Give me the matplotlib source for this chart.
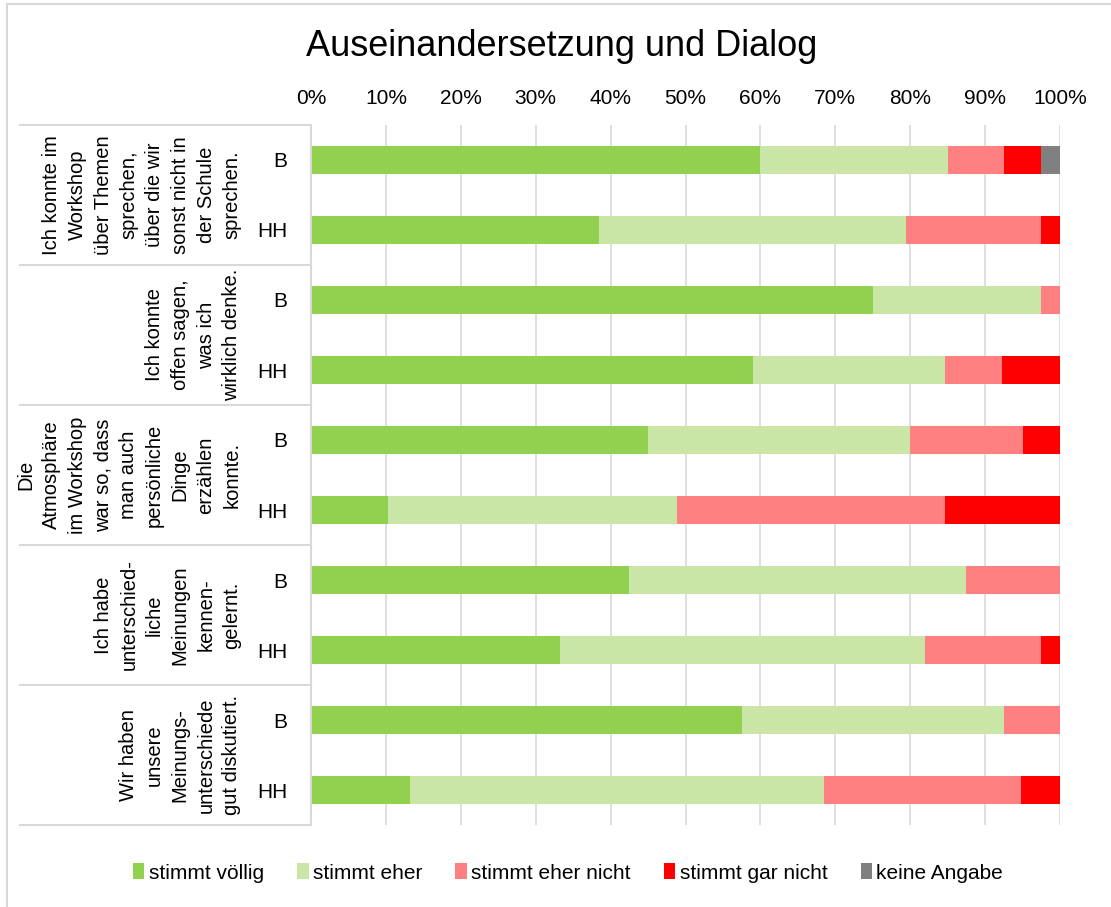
import matplotlib.pyplot as plt
import matplotlib.transforms as mtransforms
from matplotlib.lines import Line2D
import numpy as np

plt.rcParams['font.family'] = ['Liberation Sans', 'DejaVu Sans']

# data (percent), one entry per bar, top to bottom
groups = ["B", "HH", "B", "HH", "B", "HH", "B", "HH", "B", "HH"]
questions = [
    "Ich konnte im\nWorkshop\nüber Themen\nsprechen,\nüber die wir\nsonst nicht in\nder Schule\nsprechen.",
    "Ich konnte\noffen sagen,\nwas ich\nwirklich denke.",
    "Die\nAtmosphäre\nim Workshop\nwar so, dass\nman auch\npersönliche\nDinge\nerzählen\nkonnte.",
    "Ich habe\nunterschied-\nliche\nMeinungen\nkennen-\ngelernt.",
    "Wir haben\nunsere\nMeinungs-\nunterschiede\ngut diskutiert.",
]
series = ["stimmt völlig", "stimmt eher", "stimmt eher nicht", "stimmt gar nicht", "keine Angabe"]
stimmt_voellig = [60.0, 38.5, 75.0, 59.0, 45.0, 10.3, 42.5, 33.3, 57.5, 13.2]
stimmt_eher = [25.0, 41.0, 22.5, 25.6, 35.0, 38.5, 45.0, 48.7, 35.0, 55.3]
stimmt_eher_nicht = [7.5, 17.9, 2.5, 7.7, 15.0, 35.9, 12.5, 15.4, 7.5, 26.3]
stimmt_gar_nicht = [5.0, 2.6, 0.0, 7.7, 5.0, 15.4, 0.0, 2.6, 0.0, 5.3]
keine_angabe = [2.5, 0, 0, 0, 0, 0, 0, 0, 0, 0]
colors = ["#92d050", "#c9e6a7", "#ff8080", "#ff0000", "#808080"]

values = [stimmt_voellig, stimmt_eher, stimmt_eher_nicht, stimmt_gar_nicht, keine_angabe]

W, H = 1111, 907
fig = plt.figure(figsize=(W / 100, H / 100), dpi=100)
ax = fig.add_axes([311 / W, 1 - 825 / H, (1060 - 311) / W, 700 / H])

y = np.arange(len(groups))
left = np.zeros(len(groups))
for name, vals, c in zip(series, values, colors):
    vals = np.array(vals) / 100
    ax.barh(y, vals, left=left, height=0.4, color=c, label=name, zorder=2)
    left += vals

ax.set_xlim(0, 1)
ax.set_ylim(len(groups) - 0.5, -0.5)
ax.set_xticks(np.linspace(0, 1, 11))
ax.set_xticklabels([f"{int(round(t * 100))}%" for t in np.linspace(0, 1, 11)], fontsize=15)
ax.xaxis.tick_top()
ax.tick_params(axis='x', length=0, pad=12)
ax.set_yticks(y)
ax.set_yticklabels(groups, fontsize=15)
ax.tick_params(axis='y', length=0, pad=17)
ax.grid(axis='x', color='#d9d9d9', lw=1.2, zorder=0)
for s in ['top', 'right', 'bottom']:
    ax.spines[s].set_visible(False)
ax.spines['left'].set_color('#d9d9d9')
ax.spines['left'].set_linewidth(1.5)

# question labels and separators
trans = mtransforms.blended_transform_factory(ax.transAxes, ax.transData)
for i, q in enumerate(questions):
    ax.text(-0.093, 2 * i + 0.5, q, transform=trans, rotation=90, ha='right', va='center',
            multialignment='center', fontsize=14.5, linespacing=1.45)
for b in np.arange(-0.5, len(groups), 2):
    ax.plot([-0.389, 0], [b, b], transform=trans, color='#d9d9d9', lw=1.5, clip_on=False)

# outer frame
fig.add_artist(Line2D([7 / W, 1], [1 - 4 / H, 1 - 4 / H], color='#d9d9d9', lw=1.5))
fig.add_artist(Line2D([7 / W, 7 / W], [0, 1 - 4 / H], color='#d9d9d9', lw=1.5))

fig.text(562 / W, 1 - 47 / H, "Auseinandersetzung und Dialog", ha='center', va='center', fontsize=26)

fig.legend(loc='center', bbox_to_anchor=(568 / W, 1 - 873 / H), ncol=5, frameon=False,
           fontsize=15, handlelength=0.55, handleheight=0.8, handletextpad=0.2, columnspacing=1.6)

fig.savefig("out.png", dpi=100)
